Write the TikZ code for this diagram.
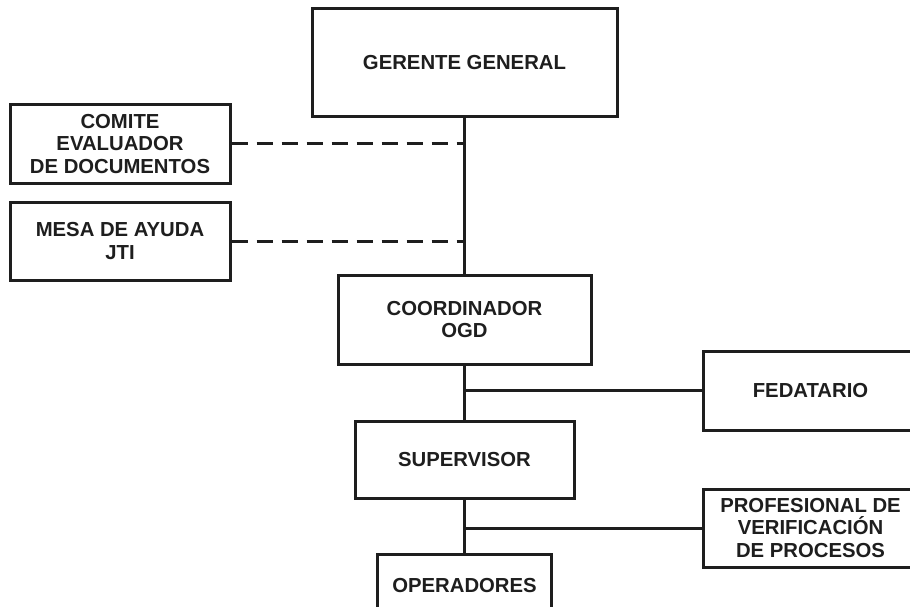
\documentclass[tikz,border=0pt]{standalone}
\usepackage{fontspec}
\setmainfont{Liberation Sans}
\definecolor{ink}{RGB}{30,30,30}
\begin{document}
\begin{tikzpicture}[x=1pt,y=-1pt,
  box/.style={draw=ink, line width=3pt, text=ink, font=\bfseries\fontsize{20.3}{22.5}\selectfont, align=center, inner sep=0pt},
  link/.style={draw=ink, line width=3pt},
  dlink/.style={link, dash pattern=on 16pt off 9pt}]
\useasboundingbox[fill=white] (0,0) rectangle (910,607);
\node[box, minimum width=305pt, minimum height=108pt] (gg) at (464.5,63) {GERENTE GENERAL};
\node[box, minimum width=220pt, minimum height=78pt] (com) at (120,144) {COMITE\\EVALUADOR\\DE DOCUMENTOS};
\node[box, minimum width=220pt, minimum height=78pt] (mesa) at (120,241) {MESA DE AYUDA\\JTI};
\node[box, minimum width=253pt, minimum height=89pt] (coord) at (464.5,319.5) {COORDINADOR\\OGD};
\node[box, minimum width=215pt, minimum height=79pt] (fed) at (810.5,390.5) {FEDATARIO};
\node[box, minimum width=219pt, minimum height=77pt] (sup) at (464.5,459.5) {SUPERVISOR};
\node[box, minimum width=215pt, minimum height=78pt] (prof) at (810.5,528) {PROFESIONAL DE\\VERIFICACIÓN\\DE PROCESOS};
\node[box, minimum width=174pt, minimum height=64pt] (op) at (464.5,586) {OPERADORES};
\draw[link] (gg.south) -- (coord.north);
\draw[dlink] (com.east) -- (com.east -| gg.south);
\draw[dlink] (mesa.east) -- (mesa.east -| gg.south);
\draw[link] (coord.south) -- (sup.north);
\draw[link] (coord.south |- fed.west) -- (fed.west);
\draw[link] (sup.south) -- (op.north);
\draw[link] (sup.south |- prof.west) -- (prof.west);
\end{tikzpicture}
\end{document}
